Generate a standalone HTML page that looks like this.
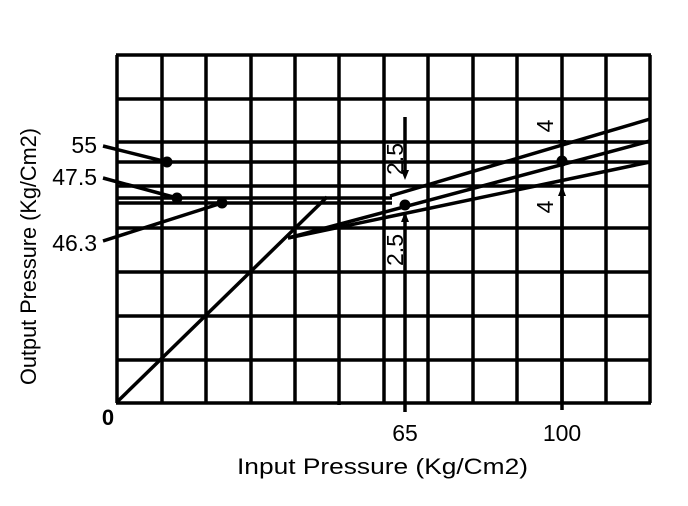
<!DOCTYPE html>
<html><head><meta charset="utf-8"><style>
html,body{margin:0;padding:0;background:#fff;}
svg{display:block;}
text{font-family:"Liberation Sans",Arial,sans-serif;fill:#000;}
</style></head><body>
<svg width="688" height="506" viewBox="0 0 688 506" xmlns="http://www.w3.org/2000/svg">
<g stroke="#000" stroke-width="3.5" fill="none">
<line x1="117" y1="55" x2="117" y2="403"/>
<line x1="162" y1="55" x2="162" y2="403"/>
<line x1="206" y1="55" x2="206" y2="403"/>
<line x1="251" y1="55" x2="251" y2="403"/>
<line x1="295" y1="55" x2="295" y2="403"/>
<line x1="339" y1="55" x2="339" y2="405"/>
<line x1="384" y1="55" x2="384" y2="403"/>
<line x1="428" y1="55" x2="428" y2="403"/>
<line x1="473" y1="55" x2="473" y2="403"/>
<line x1="517" y1="55" x2="517" y2="403"/>
<line x1="562" y1="55" x2="562" y2="403"/>
<line x1="606" y1="55" x2="606" y2="403"/>
<line x1="650" y1="55" x2="650" y2="403"/>
<line x1="116" y1="55" x2="651" y2="55"/>
<line x1="116" y1="99" x2="651" y2="99"/>
<line x1="116" y1="142" x2="651" y2="142"/>
<line x1="116" y1="186" x2="651" y2="186"/>
<line x1="116" y1="228" x2="651" y2="228"/>
<line x1="116" y1="272" x2="651" y2="272"/>
<line x1="116" y1="316" x2="651" y2="316"/>
<line x1="116" y1="360" x2="651" y2="360"/>
<line x1="116" y1="403" x2="651" y2="403"/>
<line x1="117" y1="162" x2="650" y2="162"/>
<line x1="117" y1="198" x2="392" y2="198"/>
<line x1="117" y1="203" x2="392" y2="203"/>
<line x1="117" y1="402" x2="327" y2="197"/>
<line x1="288" y1="238" x2="650" y2="141"/>
<line x1="288" y1="238" x2="650" y2="162"/>
<line x1="390" y1="196" x2="650" y2="119"/>
<line x1="103" y1="146" x2="167" y2="162"/>
<line x1="103" y1="178" x2="177" y2="198"/>
<line x1="103" y1="241" x2="222" y2="203"/>
<line x1="405" y1="117" x2="405" y2="175"/>
<line x1="405" y1="215" x2="405" y2="412"/>
<line x1="562" y1="130" x2="562" y2="145"/>
<line x1="562" y1="190" x2="562" y2="410"/>
</g>
<g fill="#000">
<circle cx="167" cy="162" r="5.5"/>
<circle cx="177" cy="198" r="5.5"/>
<circle cx="222" cy="203" r="5.5"/>
<circle cx="405" cy="205" r="5.5"/>
<circle cx="562" cy="161" r="5.5"/>
<polygon points="401,170 409,170 405,180"/>
<polygon points="401,222 409,222 405,212"/>
<polygon points="558,140 566,140 562,149"/>
<polygon points="558,196 566,196 562,186"/>
</g>
<text x="97" y="153" font-size="23" text-anchor="end">55</text>
<text x="97" y="185" font-size="23" text-anchor="end">47.5</text>
<text x="97" y="251" font-size="23" text-anchor="end">46.3</text>
<text x="108" y="425" font-size="22" text-anchor="middle" font-weight="bold">0</text>
<text x="405" y="441" font-size="23" text-anchor="middle">65</text>
<text x="562" y="441" font-size="23" text-anchor="middle">100</text>
<text x="237" y="474" font-size="22" textLength="291" lengthAdjust="spacingAndGlyphs">Input Pressure (Kg/Cm2)</text>
<text transform="translate(36,385) rotate(-90)" font-size="22" textLength="257" lengthAdjust="spacingAndGlyphs">Output Pressure (Kg/Cm2)</text>
<text transform="translate(403,159) rotate(-90)" font-size="23" text-anchor="middle">2.5</text>
<text transform="translate(403,250) rotate(-90)" font-size="23" text-anchor="middle">2.5</text>
<text transform="translate(553,126) rotate(-90)" font-size="23" text-anchor="middle">4</text>
<text transform="translate(553,207) rotate(-90)" font-size="23" text-anchor="middle">4</text>
</svg>
</body></html>
